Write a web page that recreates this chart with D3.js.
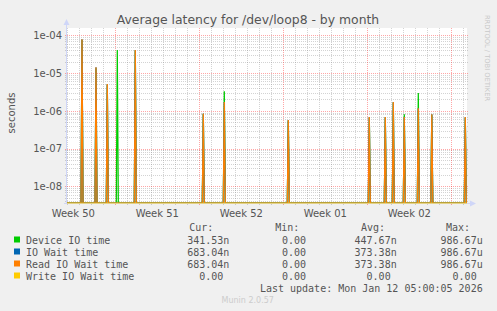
<!DOCTYPE html>
<html><head><meta charset="utf-8">
<script src="https://cdn.jsdelivr.net/npm/d3@7"></script>
<style>body{margin:0;background:#f0f0f0}svg{display:block}</style>
</head><body><svg id="c" width="497" height="311"></svg>
<script>
// ---------- data ----------
const titleText = "Average latency for /dev/loop8 - by month";
const yLabel = "seconds";
const yTicks = [1e-4, 1e-5, 1e-6, 1e-7, 1e-8];
const yTickLabels = ["1e-04", "1e-05", "1e-06", "1e-07", "1e-08"];
const weekLabels = ["Week 50", "Week 51", "Week 52", "Week 01", "Week 02"];
const weekLabelTimes = ["2025-12-10T12:00Z", "2025-12-17T12:00Z", "2025-12-24T12:00Z", "2025-12-31T12:00Z", "2026-01-07T12:00Z"];
const rangeEnd = "2026-01-12T07:24Z";
const spikeTimes = [
  "2025-12-11T05:24Z", "2025-12-12T09:24Z", "2025-12-13T08:00Z", "2025-12-14T04:00Z",
  "2025-12-15T16:00Z", "2025-12-21T08:00Z", "2025-12-23T02:00Z", "2025-12-28T10:00Z",
  "2026-01-04T04:00Z", "2026-01-05T12:00Z", "2026-01-06T04:00Z", "2026-01-07T02:00Z",
  "2026-01-08T06:00Z", "2026-01-09T09:00Z", "2026-01-12T04:00Z"
];
const deviceIO  = [7.5e-5, 1.35e-5, 4.9e-6, 4.1e-5, 4.0e-5, 8.2e-7, 3.3e-6, 5.5e-7, 6.6e-7, 6.6e-7, 1.65e-6, 8.1e-7, 2.95e-6, 7.9e-7, 6.5e-7];
const ioWait    = [7.8e-5, 1.42e-5, 5.1e-6, 0, 4.1e-5, 8.5e-7, 1.7e-6, 5.7e-7, 6.8e-7, 6.8e-7, 1.7e-6, 6.8e-7, 1.16e-6, 8.1e-7, 6.8e-7];
const readWait  = [7.8e-5, 1.42e-5, 5.1e-6, 0, 4.1e-5, 8.5e-7, 1.7e-6, 5.7e-7, 6.8e-7, 6.8e-7, 1.7e-6, 6.8e-7, 1.16e-6, 8.1e-7, 6.8e-7];
const writeWait = [0, 0, 0, 0, 0, 0, 0, 0, 0, 0, 0, 0, 0, 0, 0];
const seriesNames  = ["Device IO time", "IO Wait time", "Read IO Wait time", "Write IO Wait time"];
const seriesColors = ["#00cc00", "#0066b3", "#ff8000", "#ffcc00"];
const legendCur = ["341.53n", "683.04n", "683.04n", "0.00"];
const legendMin = ["0.00", "0.00", "0.00", "0.00"];
const legendAvg = ["447.67n", "373.38n", "373.38n", "0.00"];
const legendMax = ["986.67u", "986.67u", "986.67u", "0.00"];
const lastUpdate = "Last update: Mon Jan 12 05:00:05 2026";
const footer = "Munin 2.0.57";
const watermark = "RRDTOOL / TOBI OETIKER";

// ---------- layout ----------
const L = 67, R = 467, T = 28, B = 203;
const STEP = 7200e3; // ms per pixel
const yMin = Math.pow(10, -8.4424), yMax = Math.pow(10, -3.8066);
const fontSans = "'DejaVu Sans', sans-serif";
const fontMono = "'DejaVu Sans Mono', monospace";
const txt = "#555";

const svg = d3.select("#c");
svg.append("rect").attr("width", 497).attr("height", 311).attr("fill", "#f0f0f0");

const end = new Date(rangeEnd);
const start = new Date(+end - 400 * STEP);
const x = d3.scaleUtc().domain([start, end]).range([L, R]);
const y = d3.scaleLog().domain([yMin, yMax]).range([B, T]).clamp(true);

svg.append("rect").attr("x", L).attr("y", T).attr("width", R - L).attr("height", B - T).attr("fill", "#fff");

// grid
const g = svg.append("g").attr("shape-rendering", "crispEdges");
const minorY = [];
for (let e = -9; e <= -4; e++) for (let m = 2; m <= 9; m++) {
  const v = m * Math.pow(10, e);
  if (v > yMin && v < yMax) minorY.push(v);
}
g.selectAll(".hm").data(minorY).join("line")
  .attr("x1", L - 2).attr("x2", R + 2)
  .attr("y1", d => Math.round(y(d)) + 0.5).attr("y2", d => Math.round(y(d)) + 0.5)
  .attr("stroke", "rgba(128,128,128,0.35)").attr("stroke-dasharray", "1,1");
const days = d3.utcDay.range(start, end).filter(d => d.getUTCDay() !== 0);
g.selectAll(".vm").data(days).join("line")
  .attr("x1", d => Math.round(x(d)) + 0.5).attr("x2", d => Math.round(x(d)) + 0.5)
  .attr("y1", T).attr("y2", B + 2)
  .attr("stroke", "rgba(128,128,128,0.35)").attr("stroke-dasharray", "1,1");
g.selectAll(".hM").data(yTicks).join("line")
  .attr("x1", L - 2).attr("x2", R + 2)
  .attr("y1", d => Math.round(y(d)) + 0.5).attr("y2", d => Math.round(y(d)) + 0.5)
  .attr("stroke", "rgba(255,32,32,0.4)").attr("stroke-dasharray", "1,1");
const weeks = d3.utcSunday.range(start, end);
g.selectAll(".vM").data(weeks).join("line")
  .attr("x1", d => Math.round(x(d)) + 0.5).attr("x2", d => Math.round(x(d)) + 0.5)
  .attr("y1", T).attr("y2", B + 2)
  .attr("stroke", "rgba(255,32,32,0.4)").attr("stroke-dasharray", "1,1");

// series
const allSeries = [deviceIO, ioWait, readWait, writeWait];
const line = d3.line().x(d => x(d[0])).y(d => y(d[1] > 0 ? d[1] : yMin));
const plot = svg.append("g");
allSeries.forEach((vals, si) => {
  const pts = [[start, 0]];
  spikeTimes.forEach((t, i) => {
    const tt = new Date(t);
    pts.push([new Date(+tt - STEP), 0], [tt, vals[i]], [new Date(+tt + STEP), 0]);
  });
  pts.push([end, 0]);
  pts.sort((a, b) => a[0] - b[0]);
  plot.append("path").attr("d", line(pts)).attr("fill", "none")
    .attr("stroke", seriesColors[si]).attr("stroke-width", 1.25)
    .attr("opacity", si === 3 ? 0.55 : 1);
});

// axes
const ax = svg.append("g").attr("shape-rendering", "crispEdges");
ax.append("line").attr("x1", L - 0.5).attr("x2", L - 0.5).attr("y1", B).attr("y2", T - 4).attr("stroke", "#cfd6f8");
ax.append("line").attr("x1", L - 3).attr("x2", R + 4).attr("y1", B + 0.5).attr("y2", B + 0.5).attr("stroke", "#cfd6f8");
svg.append("path").attr("d", `M${L - 3.5},${T - 3} L${L + 2.5},${T - 3} L${L - 0.5},${T - 9} Z`).attr("fill", "#cfd6f8");
svg.append("path").attr("d", `M${R + 3},${B - 2.5} L${R + 3},${B + 3.5} L${R + 9},${B + 0.5} Z`).attr("fill", "#cfd6f8");
// bottom yellow (write = 0) overlay
svg.append("line").attr("x1", L).attr("x2", R).attr("y1", B + 0.5).attr("y2", B + 0.5)
  .attr("stroke", "#ffcc00").attr("opacity", 0.45).attr("shape-rendering", "crispEdges");

// y tick labels
svg.selectAll(".yt").data(yTicks).join("text")
  .attr("x", 62).attr("y", d => y(d) + 3.7).attr("text-anchor", "end")
  .attr("font-family", fontSans).attr("font-size", 10).attr("fill", txt)
  .text((d, i) => yTickLabels[i]);
// x labels
svg.selectAll(".xt").data(weekLabelTimes).join("text")
  .attr("x", d => x(new Date(d))).attr("y", 217).attr("text-anchor", "middle")
  .attr("font-family", fontSans).attr("font-size", 10).attr("fill", txt)
  .text((d, i) => weekLabels[i]);

// title
svg.append("text").attr("x", 248).attr("y", 24).attr("text-anchor", "middle")
  .attr("font-family", fontSans).attr("font-size", 12.4).attr("fill", txt).text(titleText);
// y label
svg.append("text").attr("transform", "translate(15,113) rotate(-90)").attr("text-anchor", "middle")
  .attr("font-family", fontSans).attr("font-size", 10).attr("fill", txt).text(yLabel);
// watermark
svg.append("text").attr("transform", "translate(485,58) rotate(90)").attr("text-anchor", "middle")
  .attr("font-family", fontSans).attr("font-size", 6.7).attr("fill", "#c8c8c8").text(watermark);

// legend
const lg = svg.append("g").attr("font-family", fontMono).attr("font-size", 10).attr("fill", txt);
const headers = ["Cur:", "Min:", "Avg:", "Max:"];
const headerRight = [213.3, 299.3, 385, 470];
const colRight = [229.3, 312, 396.7, 482.7];
headers.forEach((h, i) => lg.append("text").attr("x", headerRight[i]).attr("y", 231).attr("text-anchor", "end").text(h));
const cols = [legendCur, legendMin, legendAvg, legendMax];
seriesNames.forEach((n, r) => {
  const by = 243.5 + r * 12;
  svg.append("rect").attr("x", 14).attr("y", by - 7).attr("width", 6).attr("height", 6).attr("fill", seriesColors[r]);
  lg.append("text").attr("x", 26).attr("y", by).text(n);
  cols.forEach((c, ci) => {
    const s = c[r];
    const unit = /[a-zA-Z]$/.test(s);
    lg.append("text").attr("x", colRight[ci] - (unit ? 0 : 6.02)).attr("y", by).attr("text-anchor", "end").text(s);
  });
});
lg.append("text").attr("x", 482.7).attr("y", 291.5).attr("text-anchor", "end").text(lastUpdate);
svg.append("text").attr("x", 247.7).attr("y", 303).attr("text-anchor", "middle")
  .attr("font-family", fontSans).attr("font-size", 8).attr("fill", "#cccccc").text(footer);
</script>
</body></html>
